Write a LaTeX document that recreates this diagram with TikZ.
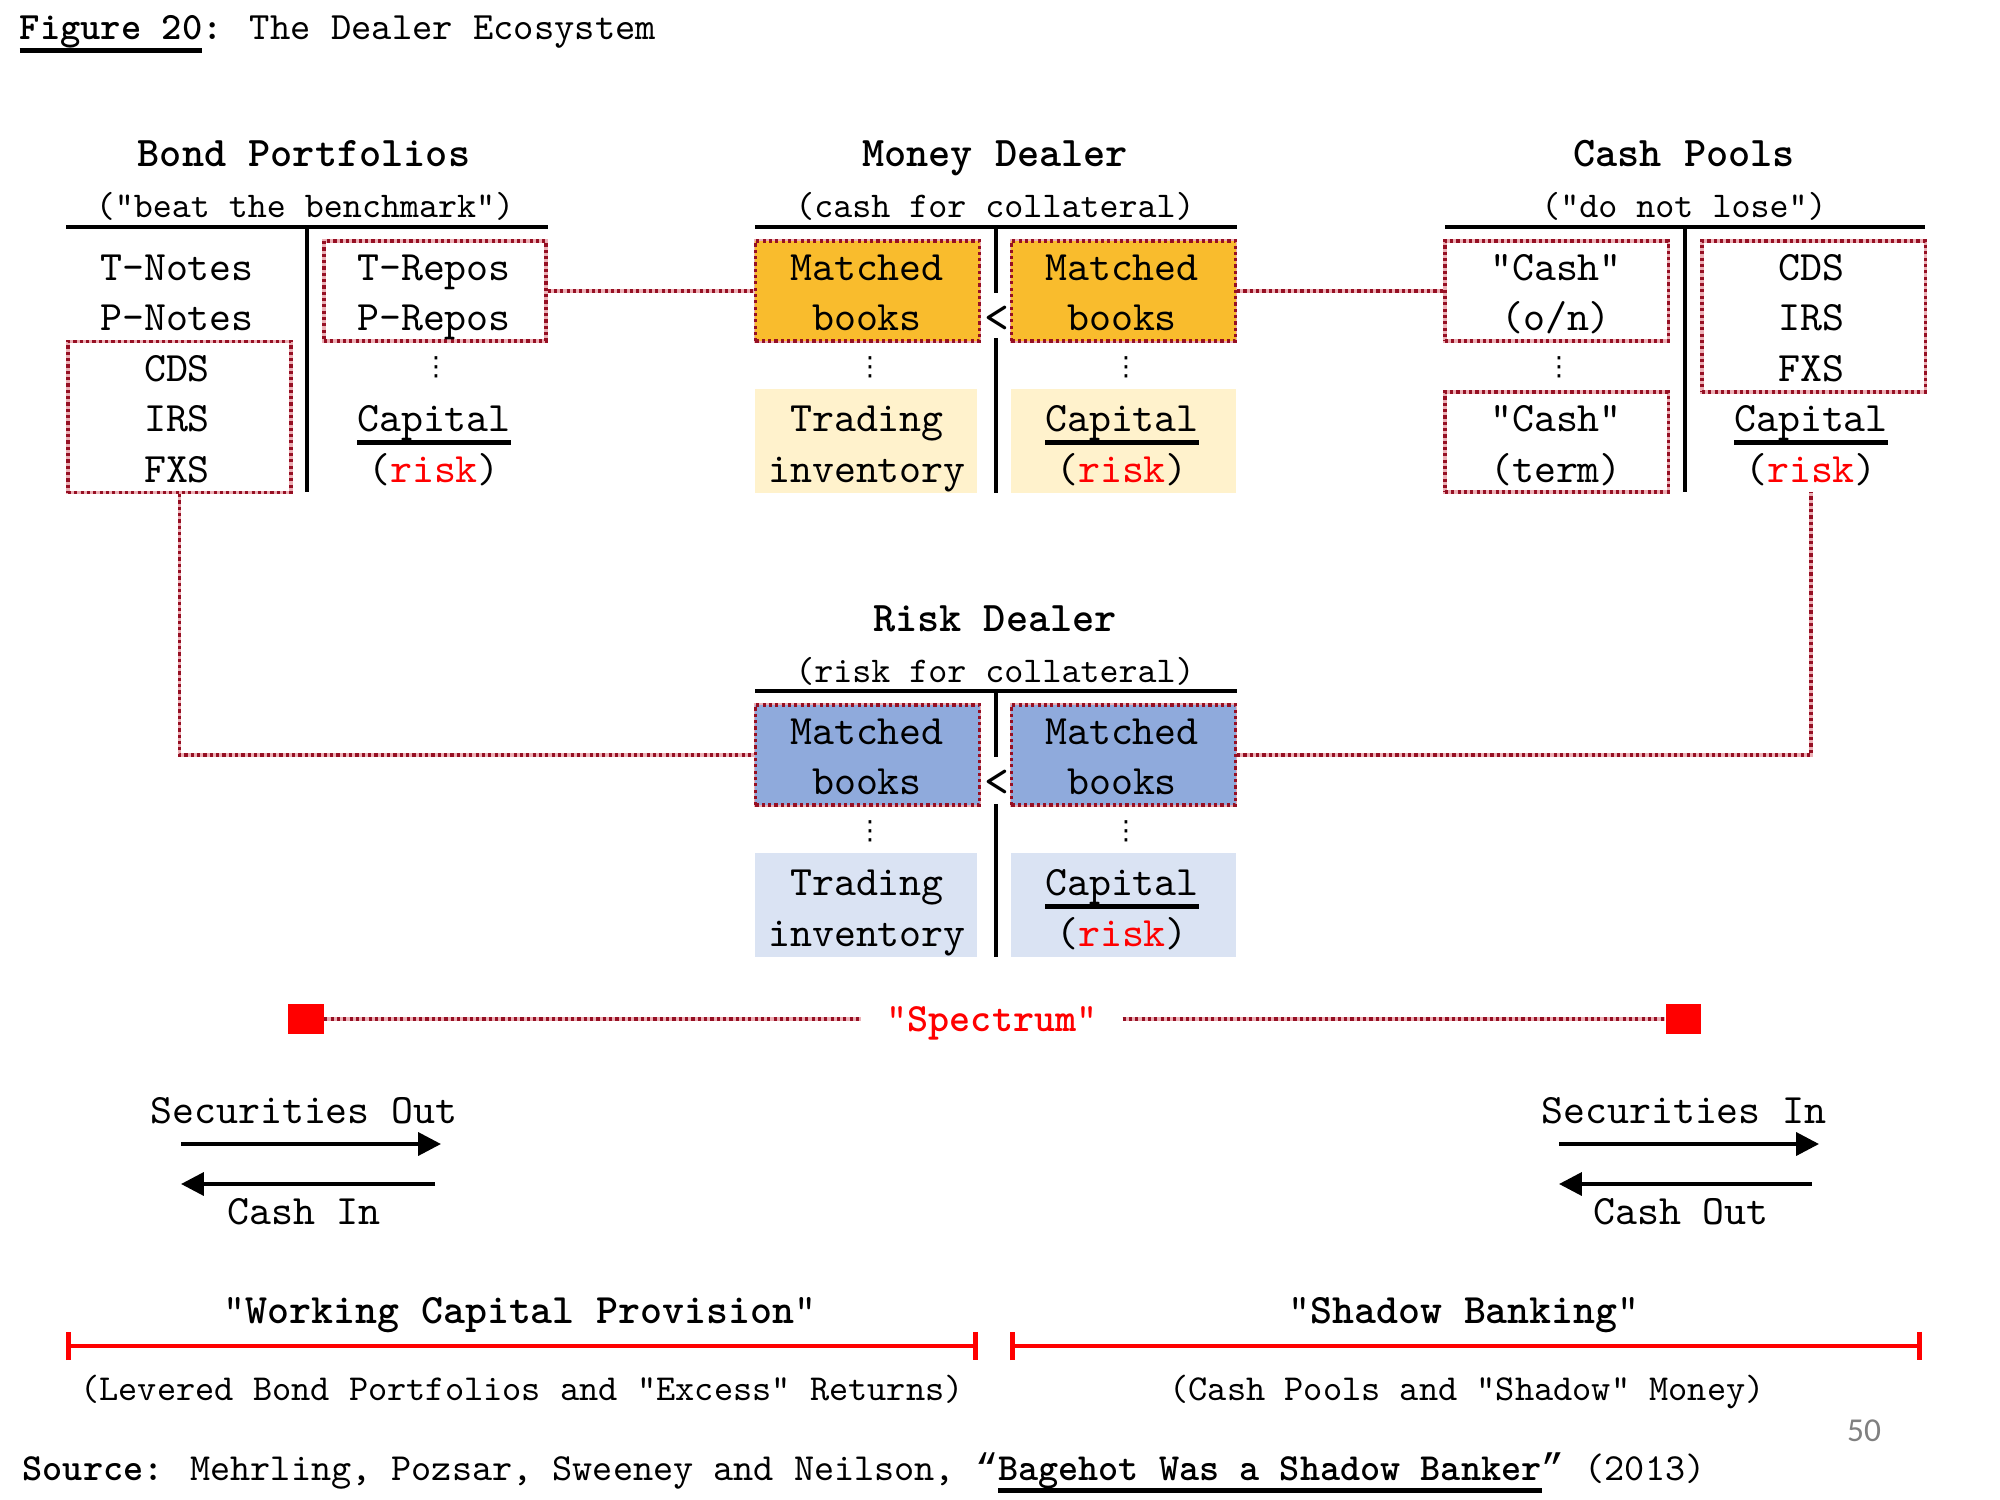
\documentclass[tikz,border=0pt]{standalone}
\usepackage{fontspec}
\setmainfont{lmmono10-regular.otf}[BoldFont=lmmonolt10-bold.otf, Ligatures=TeXOff]
\newfontfamily\pagenumfont{Carlito}
\newfontfamily\quotefont{Liberation Mono}
\newfontfamily\dotsfont{DejaVu Sans}
\usepackage{tikz}
\usetikzlibrary{arrows.meta,positioning}
\definecolor{linkred}{RGB}{150,15,35}
\definecolor{linkpink}{RGB}{236,176,182}
\definecolor{riskred}{RGB}{255,0,0}
\definecolor{mdgold}{RGB}{249,188,45}
\definecolor{mdlight}{RGB}{255,242,204}
\definecolor{rdblue}{RGB}{143,170,220}
\definecolor{rdlight}{RGB}{218,227,243}
\newsavebox{\ulbox}
\newcommand{\thickul}[1]{\sbox{\ulbox}{#1}\rlap{\smash{\rule[-3.6pt]{\wd\ulbox}{1.2pt}}}\usebox{\ulbox}}
\newcommand{\riskword}{(\textcolor{riskred}{risk})}
\newcommand{\vdotsm}{{\dotsfont\fontsize{7.5}{8}\selectfont ⋮}}
\tikzset{
  txt/.style={font=\fontsize{11.9}{14.34}\selectfont, inner sep=0pt, text height=1.9ex, text depth=.2ex},
  colhead/.style={font=\fontsize{12}{14}\selectfont\bfseries, inner sep=0pt, text height=1.9ex, text depth=.2ex},
  subhead/.style={font=\fontsize{10.3}{12}\selectfont, inner sep=0pt, text height=1.9ex, text depth=.2ex},
  smallnote/.style={font=\fontsize{10.4}{12}\selectfont, inner sep=0pt, text height=1.9ex, text depth=.2ex},
  lessthan/.style={font=\fontsize{13.5}{14}\selectfont, inner sep=0pt, text height=1.9ex, text depth=.2ex},
  dotline/.style={draw=linkred, line width=0.9pt, dash pattern=on 0.9pt off 0.9pt,
    preaction={draw=linkpink, solid, line width=0.9pt}},
  bookbox/.style={dotline, minimum width=2.24cm, minimum height=1cm, inner sep=0pt},
  plainbox/.style={minimum width=2.24cm, minimum height=1.03cm, inner sep=0pt},
  trule/.style={line width=1.2pt},
  flowarrow/.style={line width=1.1pt, -{Triangle[length=6.5pt,width=6.5pt]}},
  spanbar/.style={draw=riskred, line width=1.4pt, {Bar[width=8pt]}-{Bar[width=8pt]}},
  redsq/.style={fill=riskred, minimum width=0.35cm, minimum height=0.3cm, inner sep=0pt},
}
\begin{document}
\begin{tikzpicture}[x=0.01cm, y=-0.01cm]
\useasboundingbox (0,0) rectangle (2000,1500);
\node[anchor=base west, inner sep=0pt, font=\fontsize{11}{12}\selectfont] (title) at (19,40)
  {\textbf{\thickul{Figure 20}:} The Dealer Ecosystem};

% bond portfolios
\node[colhead] (bphead) at (304,154) {Bond Portfolios};
\node[subhead] (bpsub) at (305,205) {("beat the benchmark")};
\draw[trule] (66,227) -- (548,227);
\draw[trule] (307,227) -- (307,492);
\node[txt] (tnotes) at (177,268) {T-Notes};
\node[txt] (pnotes) at (177,318) {P-Notes};
\node[bookbox, minimum width=2.23cm, minimum height=1.51cm] (bswaps) at (179.5,417) {};
\node[txt] (bcds) at (177,369) {CDS};
\node[txt] (birs) at (177,419) {IRS};
\node[txt] (bfxs) at (177,470) {FXS};
\node[bookbox, minimum width=2.22cm] (brepos) at (435,291) {};
\node[txt] (btrepo) at (434,268) {T-Repos};
\node[txt] (bprepo) at (434,318) {P-Repos};
\node[txt] (bdots) at (436,363) {\vdotsm};
\node[txt] (bcap) at (434,419) {\thickul{Capital}};
\node[txt] (brisk) at (434,470) {\riskword};

% money dealer
\node[colhead] (mdhead) at (995,154) {Money Dealer};
\node[subhead] (mdsub) at (995,205) {(cash for collateral)};
\draw[trule] (755,227) -- (1237,227);
\draw[trule] (996,227) -- (996,293);
\draw[trule] (996,338) -- (996,493);
\node[bookbox, fill=mdgold] (mbookL) at (867.5,291) {};
\node[bookbox, fill=mdgold] (mbookR) at (1123.5,291) {};
\node[txt] (mbookLa) at (867,268) {Matched};
\node[txt] (mbookLb) at (867,318) {books};
\node[txt] (mbookRa) at (1122,268) {Matched};
\node[txt] (mbookRb) at (1122,318) {books};
\node[lessthan] (mlt) at (997,320) {<};
\node[txt] (mdotsL) at (870,363) {\vdotsm};
\node[txt] (mdotsR) at (1126,363) {\vdotsm};
\node[plainbox, fill=mdlight, minimum width=2.22cm] (mtrade) at (866,441) {};
\node[plainbox, fill=mdlight] (mcap) at (1123.5,441) {};
\node[txt] (mtradea) at (867,419) {Trading};
\node[txt] (mtradeb) at (867,470) {inventory};
\node[txt] (mcapa) at (1122,419) {\thickul{Capital}};
\node[txt] (mcapb) at (1122,470) {\riskword};

% cash pools
\node[colhead] (cphead) at (1684,154) {Cash Pools};
\node[subhead] (cpsub) at (1684,205) {("do not lose")};
\draw[trule] (1445,227) -- (1925,227);
\draw[trule] (1685,227) -- (1685,492);
\node[bookbox, minimum width=2.23cm] (conight) at (1556.5,291) {};
\node[txt] (conighta) at (1556,268) {"Cash"};
\node[txt] (conightb) at (1556,318) {(o/n)};
\node[txt] (cdots) at (1559,363) {\vdotsm};
\node[bookbox, minimum width=2.23cm] (cterm) at (1556.5,442) {};
\node[txt] (cterma) at (1556,419) {"Cash"};
\node[txt] (ctermb) at (1556,470) {(term)};
\node[bookbox, minimum width=2.23cm, minimum height=1.51cm] (cswaps) at (1813.5,316.5) {};
\node[txt] (ccds) at (1811,268) {CDS};
\node[txt] (cirs) at (1811,318) {IRS};
\node[txt] (cfxs) at (1811,369) {FXS};
\node[txt] (ccap) at (1811,419) {\thickul{Capital}};
\node[txt] (crisk) at (1811,470) {\riskword};
\coordinate (cfoot) at (1811,492);

% risk dealer
\node[colhead] (rdhead) at (995,619) {Risk Dealer};
\node[subhead] (rdsub) at (995,670) {(risk for collateral)};
\draw[trule] (755,691) -- (1237,691);
\draw[trule] (996,691) -- (996,757);
\draw[trule] (996,804) -- (996,957);
\node[bookbox, fill=rdblue] (rbookL) at (867.5,755) {};
\node[bookbox, fill=rdblue] (rbookR) at (1123.5,755) {};
\node[txt] (rbookLa) at (867,732) {Matched};
\node[txt] (rbookLb) at (867,782) {books};
\node[txt] (rbookRa) at (1122,732) {Matched};
\node[txt] (rbookRb) at (1122,782) {books};
\node[lessthan] (rlt) at (997,784) {<};
\node[txt] (rdotsL) at (870,827) {\vdotsm};
\node[txt] (rdotsR) at (1126,827) {\vdotsm};
\node[plainbox, fill=rdlight, minimum width=2.22cm] (rtrade) at (866,905) {};
\node[plainbox, fill=rdlight] (rcap) at (1123.5,905) {};
\node[txt] (rtradea) at (867,883) {Trading};
\node[txt] (rtradeb) at (867,934) {inventory};
\node[txt] (rcapa) at (1122,883) {\thickul{Capital}};
\node[txt] (rcapb) at (1122,934) {\riskword};

% links
\draw[dotline] (brepos) -- (mbookL);
\draw[dotline] (mbookR) -- (conight);
\draw[dotline] (bswaps.south) |- (rbookL.west);
\draw[dotline] (rbookR.east) -| (cfoot);

% spectrum
\node[redsq] (specL) at (306,1019) {};
\node[redsq] (specR) at (1683,1019) {};
\node[font=\fontsize{11.4}{13}\selectfont, text=riskred, inner xsep=7pt, inner ysep=0pt, text height=1.9ex, text depth=.2ex] (spec) at (992,1019) {"\textbf{Spectrum}"};
\draw[dotline] (specL) -- (spec);
\draw[dotline] (spec) -- (specR);

% flows
\node[txt] (secout) at (304,1111) {Securities Out};
\coordinate (soA) at (181,1144);
\coordinate (soB) at (441,1144);
\coordinate (ciA) at (435,1184);
\coordinate (ciB) at (181,1184);
\draw[flowarrow] (soA) -- (soB);
\draw[flowarrow] (ciA) -- (ciB);
\node[txt] (cashin) at (304,1212) {Cash In};
\node[txt] (secin) at (1684,1111) {Securities In};
\coordinate (siA) at (1559,1144);
\coordinate (siB) at (1819,1144);
\coordinate (coA) at (1812,1184);
\coordinate (coB) at (1559,1184);
\draw[flowarrow] (siA) -- (siB);
\draw[flowarrow] (coA) -- (coB);
\node[txt] (cashout) at (1681,1212) {Cash Out};

% bottom spans
\node[txt] (wcp) at (520,1311) {"\textbf{Working Capital Provision}"};
\coordinate (wcL) at (66,1346);
\coordinate (wcR) at (978,1346);
\draw[spanbar] (wcL) -- (wcR);
\node[smallnote] (wcpsub) at (522,1388) {(Levered Bond Portfolios and "Excess" Returns)};
\node[txt] (shb) at (1464,1311) {"\textbf{Shadow Banking}"};
\coordinate (sbL) at (1010,1346);
\coordinate (sbR) at (1922,1346);
\draw[spanbar] (sbL) -- (sbR);
\node[smallnote] (shbsub) at (1467,1388) {(Cash Pools and "Shadow" Money)};

\node[font=\pagenumfont\fontsize{9.5}{11}\selectfont, text=gray, inner sep=0pt] (pnum) at (1864,1431) {50};
\node[anchor=base west, inner sep=0pt, font=\fontsize{10.9}{12}\selectfont] (source) at (22,1480)
  {\textbf{Source:} Mehrling, Pozsar, Sweeney and Neilson, {\quotefont “}\textbf{\thickul{Bagehot Was a Shadow Banker}}{\quotefont ”} (2013)};
\end{tikzpicture}
\end{document}
